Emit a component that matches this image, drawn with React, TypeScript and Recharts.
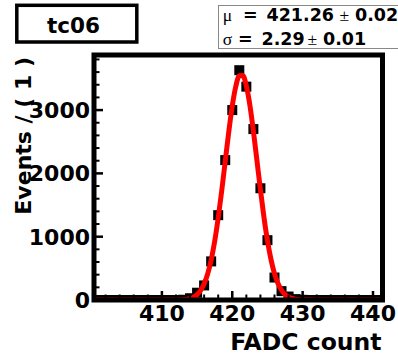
import React from 'react';
import { ComposedChart, XAxis, YAxis, Scatter, Line, ReferenceArea } from 'recharts';

const FONT = '"DejaVu Sans", "Liberation Sans", sans-serif';

// histogram bins (FADC count) and counts
const binCenters = [
  401, 402, 403, 404, 405, 406, 407, 408, 409, 410, 411, 412, 413, 414, 415, 416, 417, 418, 419, 420, 421,
  422, 423, 424, 425, 426, 427, 428, 429, 430, 431, 432, 433, 434, 435, 436, 437, 438, 439, 440, 441,
];
const binCounts = [
  0, 0, 0, 0, 0, 0, 0, 0, 0, 0, 0, 0, 4, 28, 115, 230, 610, 1340, 2210, 3000, 3630,
  3370, 2700, 1765, 945, 355, 140, 55, 14, 3, 0, 0, 0, 0, 0, 0, 0, 0, 0, 0, 0,
];

// fitted gaussian curve
const curveX = [
  400.35, 405, 410, 412, 413, 414, 414.5, 415, 415.5, 416, 416.5, 417, 417.5, 418, 418.5, 419, 419.5, 420, 420.5,
  421, 421.5, 422, 422.5, 423, 423.5, 424, 424.5, 425, 425.5, 426, 426.5, 427, 427.5, 428, 428.5, 429, 430, 432,
  435, 441.35,
];
const curveY = [
  0, 0, 0, 0, 5, 23, 46, 85, 151, 255, 411, 632, 926, 1295, 1726, 2190, 2653, 3066, 3373,
  3542, 3545, 3383, 3080, 2670, 2210, 1743, 1310, 938, 642, 417, 260, 154, 87, 47, 24, 12, 2, 0,
  0, 0,
];

const xMajorTicks = [410, 420, 430, 440];
const xAllTicks = [402, 404, 406, 408, 410, 412, 414, 416, 418, 420, 422, 424, 426, 428, 430, 432, 434, 436, 438, 440];
const yMajorTicks = [0, 1000, 2000, 3000];
const yAllTicks = [0, 200, 400, 600, 800, 1000, 1200, 1400, 1600, 1800, 2000, 2200, 2400, 2600, 2800, 3000, 3200, 3400, 3600, 3800];
const xDomain: [number, number] = [400.35, 441.35];
const yDomain: [number, number] = [0, 3870];

const histData = binCenters.map((x, i) => ({ x, y: binCounts[i] }));
const curveData = curveX.map((x, i) => ({ x, y: curveY[i] }));

const LABEL_SIZE = 22;
const X_TICK_SIZE = 6;
const Y_TICK_SIZE = 4;

const XTick = (props: any) => {
  const { x, y, payload } = props;
  const v = payload.value;
  const major = xMajorTicks.includes(v);
  const axisY = y - X_TICK_SIZE;
  return (
    <g>
      <line x1={x} x2={x} y1={axisY} y2={axisY - (major ? 9 : 5.5)} stroke="#000" strokeWidth={major ? 2.5 : 2} />
      {major && (
        <text x={x} y={axisY + 21} textAnchor="middle" fontFamily={FONT} fontWeight="bold" fontSize={LABEL_SIZE} fill="#000">
          {v}
        </text>
      )}
    </g>
  );
};

const YTick = (props: any) => {
  const { x, y, payload } = props;
  const v = payload.value;
  const major = yMajorTicks.includes(v);
  const axisX = x + Y_TICK_SIZE;
  return (
    <g>
      {v !== 0 && (
        <line x1={axisX} x2={axisX + (major ? 9 : 5.5)} y1={y} y2={y} stroke="#000" strokeWidth={major ? 2.5 : 2} />
      )}
      {major && (
        <text x={x} y={y + 8} textAnchor="end" fontFamily={FONT} fontWeight="bold" fontSize={LABEL_SIZE} fill="#000">
          {v}
        </text>
      )}
    </g>
  );
};

const SquareMarker = (props: any) => {
  const { cx, cy } = props;
  if (cx == null || cy == null) return null;
  return <rect x={cx - 5} y={cy - 5} width={10} height={10} fill="#000" />;
};

export default function App() {
  return (
    <div style={{ position: 'absolute', left: 0, top: 0, width: 398, height: 361, background: '#fff' }}>
      <ComposedChart
        width={398}
        height={361}
        margin={{ top: 55, right: 15.5, bottom: 31, left: 34 }}
      >
        <XAxis
          xAxisId="x"
          dataKey="x"
          type="number"
          domain={xDomain}
          allowDataOverflow
          ticks={xAllTicks}
          interval={0}
          tickLine={false}
          axisLine={false}
          tickSize={X_TICK_SIZE}
          tickMargin={0}
          height={30}
          tick={XTick}
        />
        <YAxis
          yAxisId="y"
          dataKey="y"
          type="number"
          domain={yDomain}
          allowDataOverflow
          ticks={yAllTicks}
          interval={0}
          tickLine={false}
          axisLine={false}
          tickSize={Y_TICK_SIZE}
          tickMargin={0}
          width={60}
          tick={YTick}
        />
        <Scatter
          xAxisId="x"
          yAxisId="y"
          data={histData}
          dataKey="y"
          shape={SquareMarker}
          isAnimationActive={false}
        />
        <Line
          xAxisId="x"
          yAxisId="y"
          data={curveData}
          dataKey="y"
          type="monotone"
          dot={false}
          activeDot={false}
          stroke="#ff0000"
          strokeWidth={5}
          isAnimationActive={false}
          zIndex={700}
        />
        <ReferenceArea
          xAxisId="x"
          yAxisId="y"
          x1={xDomain[0]}
          x2={xDomain[1]}
          y1={yDomain[0]}
          y2={yDomain[1]}
          fill="none"
          fillOpacity={0}
          stroke="#000"
          strokeWidth={5}
          ifOverflow="visible"
          zIndex={800}
        />
      </ComposedChart>
      <svg
        width={398}
        height={361}
        style={{ position: 'absolute', left: 0, top: 0, pointerEvents: 'none' }}
      >
        {/* title box */}
        <rect x={16.8} y={5.3} width={120} height={36.7} fill="#fff" stroke="#000" strokeWidth={3.5} />
        <text x={73.5} y={33.3} textAnchor="middle" fontFamily={FONT} fontWeight="bold" fontSize={21.5} fill="#000">
          tc06
        </text>
        {/* stats box */}
        <rect x={218.5} y={5.5} width={200} height={43} fill="#fff" stroke="#888" strokeWidth={1} />
        <g fontFamily={FONT} fontSize={17.5} fill="#000">
          <text x={222.7} y={20.5} fontFamily='"Liberation Serif", serif'>μ</text>
          <text x={243} y={20.5} fontWeight="bold">=</text>
          <text x={266.5} y={20.5} fontWeight="bold">421.26</text>
          <text x={339.5} y={20.5} fontFamily='"Liberation Serif", serif'>±</text>
          <text x={355} y={20.5} fontWeight="bold">0.02</text>
          <text x={222.7} y={44.5} fontFamily='"Liberation Serif", serif'>σ</text>
          <text x={238} y={44.5} fontWeight="bold">=</text>
          <text x={261.5} y={44.5} fontWeight="bold">2.29</text>
          <text x={307.5} y={44.5} fontFamily='"Liberation Serif", serif'>±</text>
          <text x={323} y={44.5} fontWeight="bold">0.01</text>
        </g>
        {/* axis titles */}
        <text
          x={31}
          y={57}
          transform="rotate(-90 31 57)"
          textAnchor="end"
          fontFamily={FONT}
          fontWeight="bold"
          fontSize={22}
          fill="#000"
        >
          Events / ( 1 )
        </text>
        <text x={381.5} y={350} textAnchor="end" fontFamily={FONT} fontWeight="bold" fontSize={23.5} fill="#000">
          FADC count
        </text>
      </svg>
    </div>
  );
}
